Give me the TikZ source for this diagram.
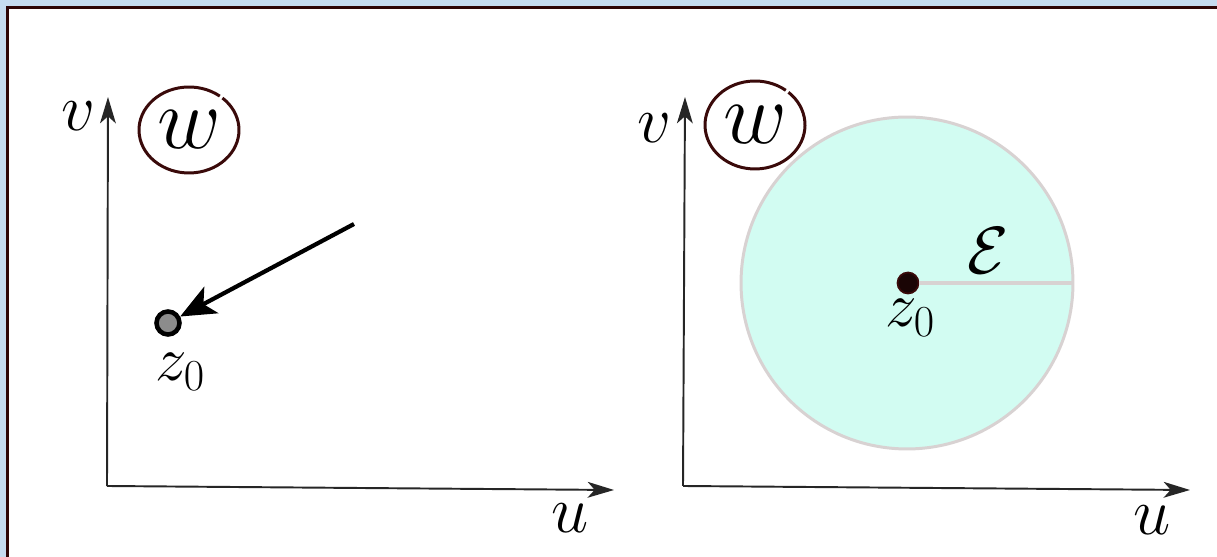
\RequirePackage{fix-cm}
\documentclass[tikz,border=0pt]{standalone}
\usetikzlibrary{arrows.meta}

\definecolor{frameblue}{HTML}{C6DCF0}
\definecolor{framebrown}{HTML}{2D0606}
\definecolor{ringbrown}{HTML}{3A0A0A}
\definecolor{diskcyan}{HTML}{D2FCF2}
\definecolor{diskgray}{HTML}{D8D2D2}
\definecolor{dotgray}{HTML}{8C8C8C}
\definecolor{dotdark}{HTML}{1A0505}

\tikzset{
  axis/.style={draw=black!85,line width=1.1pt,-{Stealth[length=15pt,width=9pt,inset=4pt]}},
  pointer/.style={draw=black,line width=2.4pt,-{Stealth[length=20pt,width=17pt,inset=5pt]}},
  letter/.style={inner sep=0pt,font=\fontsize{38}{42}\selectfont},
  bigletter/.style={inner sep=0pt,font=\fontsize{50}{54}\selectfont},
  zlabel/.style={inner sep=0pt,font=\fontsize{36}{40}\selectfont},
  ring/.style={draw=ringbrown,line width=1.7pt},
  radiusline/.style={draw=diskgray,line width=2.2pt}
}

\begin{document}
\begin{tikzpicture}[x=0.02cm,y=0.02cm]
    \useasboundingbox (0,0) rectangle (1217,557);
    \fill[frameblue] (0,0) rectangle (1217,557);
    \draw[framebrown,line width=1.7pt,fill=white] (7.5,-20) rectangle (1240,549.5);

    % left plane: z0 with an incoming arrow
    \newcommand{\LeftOX}{107}
    \newcommand{\LeftOY}{71}
    \coordinate (ol) at (\LeftOX,\LeftOY);
    \coordinate (vtipl) at (\LeftOX+1,460);
    \coordinate (utipl) at (\LeftOX+507,\LeftOY-4);
    \draw[axis] (ol) -- (vtipl);
    \draw[axis] (ol) -- (utipl);
    \node[letter] (vl) at (78,441) {$v$};
    \node[letter] (ul) at (570,39) {$u$};
    \node[bigletter] (wl) at (189,427) {$w$};
    \draw[ring] (wl.center) ++(52:50 and 43) arc[start angle=52,end angle=408,x radius=50,y radius=43];

    \node[circle,draw=black,line width=2.6pt,fill=dotgray,minimum size=0.46cm,inner sep=0pt] (dotl) at (168,234) {};
    \node[zlabel] (zl) at (180,185) {$z_0$};
    \coordinate (ptrstart) at (354,333);
    \draw[pointer] (ptrstart) -- (dotl);

    % right plane: disk of radius epsilon round z0
    \newcommand{\RightOX}{683}
    \newcommand{\RightOY}{71}
    \coordinate (or) at (\RightOX,\RightOY);
    \coordinate (vtipr) at (\RightOX+2,460);
    \coordinate (utipr) at (\RightOX+507,\RightOY-4);
    \node[circle,draw=diskgray,line width=1.7pt,fill=diskcyan,minimum size=6.64cm,inner sep=0pt] (disk) at (907,274) {};
    \draw[axis] (or) -- (vtipr);
    \draw[axis] (or) -- (utipr);
    \node[letter] (vr) at (654,429) {$v$};
    \node[letter] (ur) at (1152,37) {$u$};
    \node[bigletter] (wr) at (755,432) {$w$};
    \draw[ring] (wr.center) ++(52:50 and 44) arc[start angle=52,end angle=408,x radius=50,y radius=44];

    \node[circle,draw=ringbrown,line width=1pt,fill=dotdark,minimum size=0.42cm,inner sep=0pt] (dotr) at (908,274) {};
    \draw[radiusline] (dotr) -- (disk.east);
    \node[zlabel] (zr) at (910,239) {$z_0$};
    \node[letter] (eps) at (988,306) {$\mathcal{E}$};
  \end{tikzpicture}
\end{document}
